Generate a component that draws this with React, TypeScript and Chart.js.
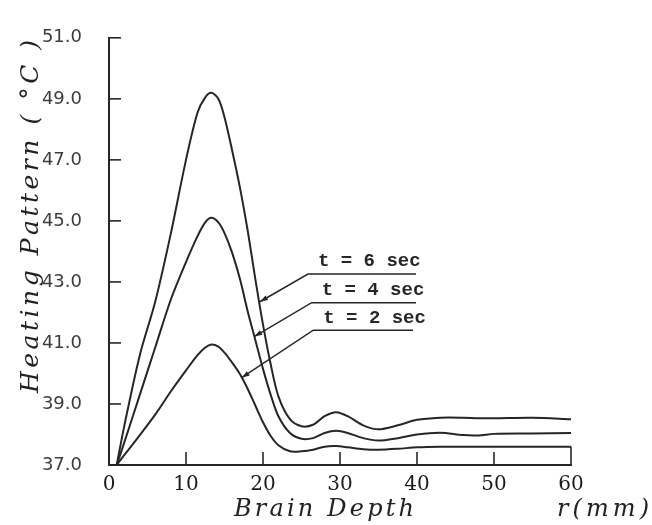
import React, { useEffect, useRef } from "react";
import { Chart, registerables } from "chart.js";

Chart.register(...registerables);

// Brain depth r (mm)
const depthMm = [1, 2, 4, 6, 8, 10, 11.5, 12.5, 13.3, 14.2, 15, 16, 17, 18, 19, 20, 21, 22, 23.5, 25, 26.5, 28, 29.5, 31, 33, 35, 37.5, 40, 43, 46, 48, 50, 55, 60];
// Heating pattern (°C) for each exposure time
const temp6s = [37.0, 38.3, 40.6, 42.35, 44.55, 47.0, 48.55, 49.05, 49.2, 49.0, 48.4, 47.3, 46.1, 44.7, 43.1, 41.6, 40.3, 39.25, 38.5, 38.27, 38.32, 38.6, 38.73, 38.6, 38.3, 38.17, 38.3, 38.48, 38.55, 38.55, 38.53, 38.53, 38.55, 38.5];
const temp4s = [37.0, 37.75, 39.3, 40.85, 42.4, 43.65, 44.5, 44.95, 45.1, 44.95, 44.6, 43.95, 43.1, 42.05, 41.1, 40.15, 39.3, 38.6, 38.05, 37.86, 37.88, 38.05, 38.12, 38.05, 37.88, 37.8, 37.88, 38.0, 38.06, 37.98, 37.97, 38.02, 38.03, 38.05];
const temp2s = [37.0, 37.33, 37.98, 38.65, 39.4, 40.1, 40.6, 40.85, 40.95, 40.88, 40.68, 40.35, 39.98, 39.5, 38.95, 38.4, 37.95, 37.65, 37.45, 37.45, 37.5, 37.6, 37.62, 37.58, 37.52, 37.5, 37.53, 37.58, 37.6, 37.6, 37.6, 37.6, 37.6, 37.6];

const yTickValues = [37, 39, 41, 43, 45, 47, 49, 51];
const xTickValues = [0, 10, 20, 30, 40, 50, 60];

// Leader-line annotations (data coordinates)
const seriesLabels = ["t = 6 sec", "t = 4 sec", "t = 2 sec"];
const arrowTipR = [19.6, 18.87, 17.23];
const arrowTipT = [42.35, 41.21, 39.86];
const labelStartR = [25.84, 26.32, 26.53];
const labelLineT = [43.26, 42.32, 41.42];
const labelEndR = [39.87, 39.87, 39.48];

const yTitle = "Heating Pattern ( °C )";
const xTitle = "Brain Depth";
const xUnit = "r(mm)";

const INK = "#262626";

function drawSpaced(ctx: CanvasRenderingContext2D, text: string, cx: number, baseY: number, width: number) {
  const chars = Array.from(text);
  const widths = chars.map((c) => ctx.measureText(c).width);
  const total = widths.reduce((a, b) => a + b, 0);
  const gap = chars.length > 1 ? (width - total) / (chars.length - 1) : 0;
  let px = cx - width / 2;
  ctx.textAlign = "left";
  ctx.textBaseline = "alphabetic";
  chars.forEach((c, i) => {
    ctx.fillText(c, px, baseY);
    px += widths[i] + gap;
  });
}

const decorPlugin = {
  id: "decor",
  afterDraw(chart: any) {
    const { ctx, scales } = chart;
    const x = scales.x;
    const y = scales.y;
    ctx.save();
    ctx.strokeStyle = INK;
    ctx.fillStyle = INK;
    ctx.lineWidth = 1.6;
    ctx.lineCap = "butt";

    const line = (x1: number, y1: number, x2: number, y2: number) => {
      ctx.beginPath();
      ctx.moveTo(x1, y1);
      ctx.lineTo(x2, y2);
      ctx.stroke();
    };

    // inward y ticks
    yTickValues.forEach((v) => {
      const py = y.getPixelForValue(v);
      line(x.left, py, x.left + 12, py);
    });
    // inward x ticks; the last one closes the t = 2 sec curve
    xTickValues.forEach((v) => {
      if (v === 0) return;
      const px = x.getPixelForValue(v);
      const topY = v === 60 ? y.getPixelForValue(temp2s[temp2s.length - 1]) : y.bottom - 13;
      line(px, y.bottom, px, topY);
    });

    // annotations
    ctx.lineWidth = 1.5;
    ctx.font = "bold 19px 'Liberation Mono'";
    for (let i = 0; i < seriesLabels.length; i++) {
      const tx = x.getPixelForValue(arrowTipR[i]);
      const ty = y.getPixelForValue(arrowTipT[i]);
      const ax = x.getPixelForValue(labelStartR[i]);
      const ay = y.getPixelForValue(labelLineT[i]);
      const bx = x.getPixelForValue(labelEndR[i]);
      ctx.beginPath();
      ctx.moveTo(bx, ay);
      ctx.lineTo(ax, ay);
      ctx.lineTo(tx, ty);
      ctx.stroke();
      const dx = tx - ax;
      const dy = ty - ay;
      const len = Math.hypot(dx, dy);
      const ux = dx / len;
      const uy = dy / len;
      const bxh = tx - ux * 8;
      const byh = ty - uy * 8;
      ctx.beginPath();
      ctx.moveTo(tx, ty);
      ctx.lineTo(bxh - uy * 2.6, byh + ux * 2.6);
      ctx.lineTo(bxh + uy * 2.6, byh - ux * 2.6);
      ctx.closePath();
      ctx.fill();
      ctx.textAlign = "left";
      ctx.textBaseline = "alphabetic";
      ctx.fillText(seriesLabels[i], ax + 10, ay - 7.5);
    }

    // axis titles
    ctx.fillStyle = "#222";
    ctx.font = "italic 25px 'DejaVu Serif'";
    ctx.save();
    ctx.translate(38, 216.5);
    ctx.rotate(-Math.PI / 2);
    drawSpaced(ctx, yTitle, 0, 0, 353);
    ctx.restore();
    ctx.font = "italic 24px 'DejaVu Serif'";
    drawSpaced(ctx, xTitle, 324, 516, 180);
    drawSpaced(ctx, xUnit, 603, 516, 92);
    ctx.restore();
  },
};

export default function App() {
  const ref = useRef<HTMLCanvasElement>(null);
  useEffect(() => {
    const canvas = ref.current;
    if (!canvas) return;
    const mk = (vals: number[]) => depthMm.map((r, i) => ({ x: r, y: vals[i] }));
    const ds = (label: string, vals: number[]) => ({
      label,
      data: mk(vals),
      borderColor: INK,
      borderWidth: 2,
      pointRadius: 0,
      fill: false,
      tension: 0.3,
    });
    const chart = new Chart(canvas, {
      type: "line",
      data: {
        datasets: [ds(seriesLabels[0], temp6s), ds(seriesLabels[1], temp4s), ds(seriesLabels[2], temp2s)],
      },
      options: {
        animation: false,
        responsive: false,
        devicePixelRatio: 1,
        layout: { padding: { left: 0, right: 81, top: 16, bottom: 0 } },
        plugins: { legend: { display: false }, tooltip: { enabled: false } },
        scales: {
          x: {
            type: "linear",
            min: 0,
            max: 60,
            afterBuildTicks: (s: any) => {
              s.ticks = xTickValues.map((v) => ({ value: v }));
            },
            afterFit: (s: any) => {
              s.height = 60;
            },
            grid: { display: true, drawOnChartArea: false, drawTicks: false },
            border: { display: true, color: INK, width: 2 },
            ticks: {
              padding: 8,
              maxRotation: 0,
              autoSkip: false,
              color: "#1a1a1a",
              font: { family: "'DejaVu Serif'", size: 20 },
              callback: (v: any) => String(v),
            },
          },
          y: {
            type: "linear",
            min: 37,
            max: 51,
            afterBuildTicks: (s: any) => {
              s.ticks = yTickValues.map((v) => ({ value: v }));
            },
            afterFit: (s: any) => {
              s.width = 109;
            },
            grid: { display: true, drawOnChartArea: false, drawTicks: false },
            border: { display: true, color: INK, width: 2 },
            ticks: {
              padding: 27,
              autoSkip: false,
              color: "#3c3c3c",
              font: { family: "'DejaVu Sans'", size: 18 },
              callback: (v: any) => Number(v).toFixed(1),
            },
          },
        },
      },
      plugins: [decorPlugin],
    });
    return () => chart.destroy();
  }, []);
  return (
    <div style={{ position: "fixed", left: 0, top: 0, width: 652, height: 525, background: "#fff" }}>
      <canvas ref={ref} width={652} height={525} style={{ display: "block" }} />
    </div>
  );
}
